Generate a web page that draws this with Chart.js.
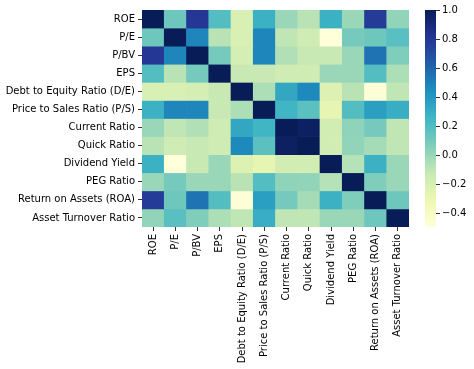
<!DOCTYPE html>
<html>
<head>
<meta charset="utf-8">
<script src="https://cdn.jsdelivr.net/npm/chart.js@4"></script>
<style>
  body { margin: 0; background: #fff; }
  #wrap { position: relative; width: 474px; height: 369px; }
  #heat { position: absolute; left: 0; top: 0; }
  #cbar { position: absolute; left: 409px; top: 0; }
</style>
</head>
<body>
<div id="wrap">
  <canvas id="heat" width="474" height="369"></canvas>
  <canvas id="cbar" width="65" height="369"></canvas>
</div>
<script>
// labels for rows (top to bottom) and columns (left to right)
const metrics = ['ROE', 'P/E', 'P/BV', 'EPS', 'Debt to Equity Ratio (D/E)', 'Price to Sales Ratio (P/S)',
    'Current Ratio', 'Quick Ratio', 'Dividend Yield', 'PEG Ratio', 'Return on Assets (ROA)', 'Asset Turnover Ratio'];

// correlation matrix, one row per metric
const rowROE      = [1.00, 0.12, 0.80, 0.20, -0.20, 0.28, 0.00, -0.08, 0.28, 0.00, 0.78, 0.02];
const rowPE       = [0.12, 1.00, 0.48, -0.08, -0.20, 0.48, -0.10, -0.15, -0.49, 0.10, 0.12, 0.18];
const rowPBV      = [0.80, 0.48, 1.00, 0.10, -0.18, 0.48, -0.06, -0.12, -0.12, 0.00, 0.55, 0.07];
const rowEPS      = [0.20, -0.08, 0.10, 1.00, -0.12, -0.12, -0.15, -0.15, 0.00, 0.00, 0.20, -0.05];
const rowDE       = [-0.20, -0.20, -0.18, -0.12, 1.00, -0.05, 0.33, 0.47, -0.22, -0.08, -0.47, -0.10];
const rowPS       = [0.28, 0.48, 0.48, -0.12, -0.05, 1.00, 0.26, 0.17, -0.27, 0.20, 0.37, 0.30];
const rowCurrent  = [0.00, -0.10, -0.06, -0.15, 0.33, 0.26, 1.00, 0.97, -0.17, 0.03, 0.10, -0.10];
const rowQuick    = [-0.08, -0.15, -0.12, -0.15, 0.47, 0.17, 0.97, 1.00, -0.17, 0.02, -0.03, -0.10];
const rowDividend = [0.28, -0.49, -0.12, 0.00, -0.22, -0.27, -0.17, -0.17, 1.00, -0.07, 0.28, 0.00];
const rowPEG      = [0.00, 0.10, 0.00, 0.00, -0.08, 0.20, 0.03, 0.02, -0.07, 1.00, 0.07, 0.00];
const rowROA      = [0.78, 0.12, 0.55, 0.20, -0.47, 0.37, 0.10, -0.03, 0.28, 0.07, 1.00, 0.12];
const rowAT       = [0.02, 0.18, 0.07, -0.05, -0.10, 0.30, -0.10, -0.10, 0.00, 0.00, 0.12, 1.00];
const corr = [rowROE, rowPE, rowPBV, rowEPS, rowDE, rowPS, rowCurrent, rowQuick, rowDividend, rowPEG, rowROA, rowAT];

const cbarTicks = [-0.4, -0.2, 0.0, 0.2, 0.4, 0.6, 0.8, 1.0];

// YlGnBu anchors (matplotlib)
const ylgnbu = ['#ffffd9', '#edf8b1', '#c7e9b4', '#7fcdbb', '#41b6c4', '#1d91c0', '#225ea8', '#253494', '#081d58'];

const vmin = Math.min(...corr.flat());
const vmax = Math.max(...corr.flat());

function hexToRgb(h) {
    return [parseInt(h.slice(1, 3), 16), parseInt(h.slice(3, 5), 16), parseInt(h.slice(5, 7), 16)];
}
function colorAt(t) {
    t = Math.min(1, Math.max(0, t));
    const pos = t * (ylgnbu.length - 1);
    const i = Math.min(Math.floor(pos), ylgnbu.length - 2);
    const f = pos - i;
    const a = hexToRgb(ylgnbu[i]), b = hexToRgb(ylgnbu[i + 1]);
    const c = a.map((v, k) => Math.round(v + (b[k] - v) * f));
    return `rgb(${c[0]},${c[1]},${c[2]})`;
}
function cellColor(v) {
    return colorAt((v - vmin) / (vmax - vmin));
}

Chart.defaults.font.family = 'DejaVu Sans';
Chart.defaults.font.size = 10;
Chart.defaults.color = '#000';

// heatmap: every row is a stacked dataset of unit-height cells
new Chart(document.getElementById('heat'), {
    type: 'bar',
    data: {
        labels: metrics,
        datasets: corr.map((row, i) => ({
            label: metrics[i],
            data: row.map(() => 1),
            backgroundColor: row.map(cellColor),
            borderWidth: 0,
            barPercentage: 1,
            categoryPercentage: 1
        }))
    },
    options: {
        responsive: false,
        animation: false,
        layout: { padding: { left: 0, right: 65, top: 10, bottom: 0 } },
        plugins: { legend: { display: false }, tooltip: { enabled: false } },
        scales: {
            x: {
                stacked: true,
                grid: { offset: false, drawOnChartArea: false, drawTicks: true, tickLength: 4, color: '#333' },
                border: { display: false },
                ticks: { autoSkip: false, minRotation: 90, maxRotation: 90, padding: 3 },
                afterFit: (s) => { s.height = 142; }
            },
            y: {
                stacked: true,
                reverse: true,
                min: 0,
                max: metrics.length,
                grid: { drawOnChartArea: false, drawTicks: true, tickLength: 4, color: '#333' },
                border: { display: false },
                afterBuildTicks: (s) => { s.ticks = metrics.map((_, i) => ({ value: i + 0.5 })); },
                ticks: { padding: 3, callback: (v) => metrics[Math.floor(v)] },
                afterFit: (s) => { s.width = 142; }
            }
        }
    }
});

// colorbar
new Chart(document.getElementById('cbar'), {
    type: 'bar',
    data: {
        labels: ['cbar'],
        datasets: [{
            data: [[vmin, vmax]],
            borderWidth: 0,
            barPercentage: 1,
            categoryPercentage: 1,
            backgroundColor: (ctx) => {
                const chart = ctx.chart;
                if (!chart.chartArea) return null;
                const y = chart.scales.y;
                const g = chart.ctx.createLinearGradient(0, y.getPixelForValue(vmin), 0, y.getPixelForValue(vmax));
                ylgnbu.forEach((c, i) => g.addColorStop(i / (ylgnbu.length - 1), c));
                return g;
            }
        }]
    },
    options: {
        responsive: false,
        animation: false,
        layout: { padding: { left: 16, right: 0, top: 10, bottom: 142 } },
        plugins: { legend: { display: false }, tooltip: { enabled: false } },
        scales: {
            x: { display: false },
            y: {
                position: 'right',
                min: vmin,
                max: vmax,
                grid: { drawOnChartArea: false, drawTicks: true, tickLength: 4, color: '#333' },
                border: { display: false },
                afterBuildTicks: (s) => { s.ticks = cbarTicks.map(v => ({ value: v })); },
                ticks: { padding: 2, callback: (v) => v.toFixed(1).replace('-', '\u2212') },
                afterFit: (s) => { s.width = 38; }
            }
        }
    }
});
</script>
</body>
</html>
